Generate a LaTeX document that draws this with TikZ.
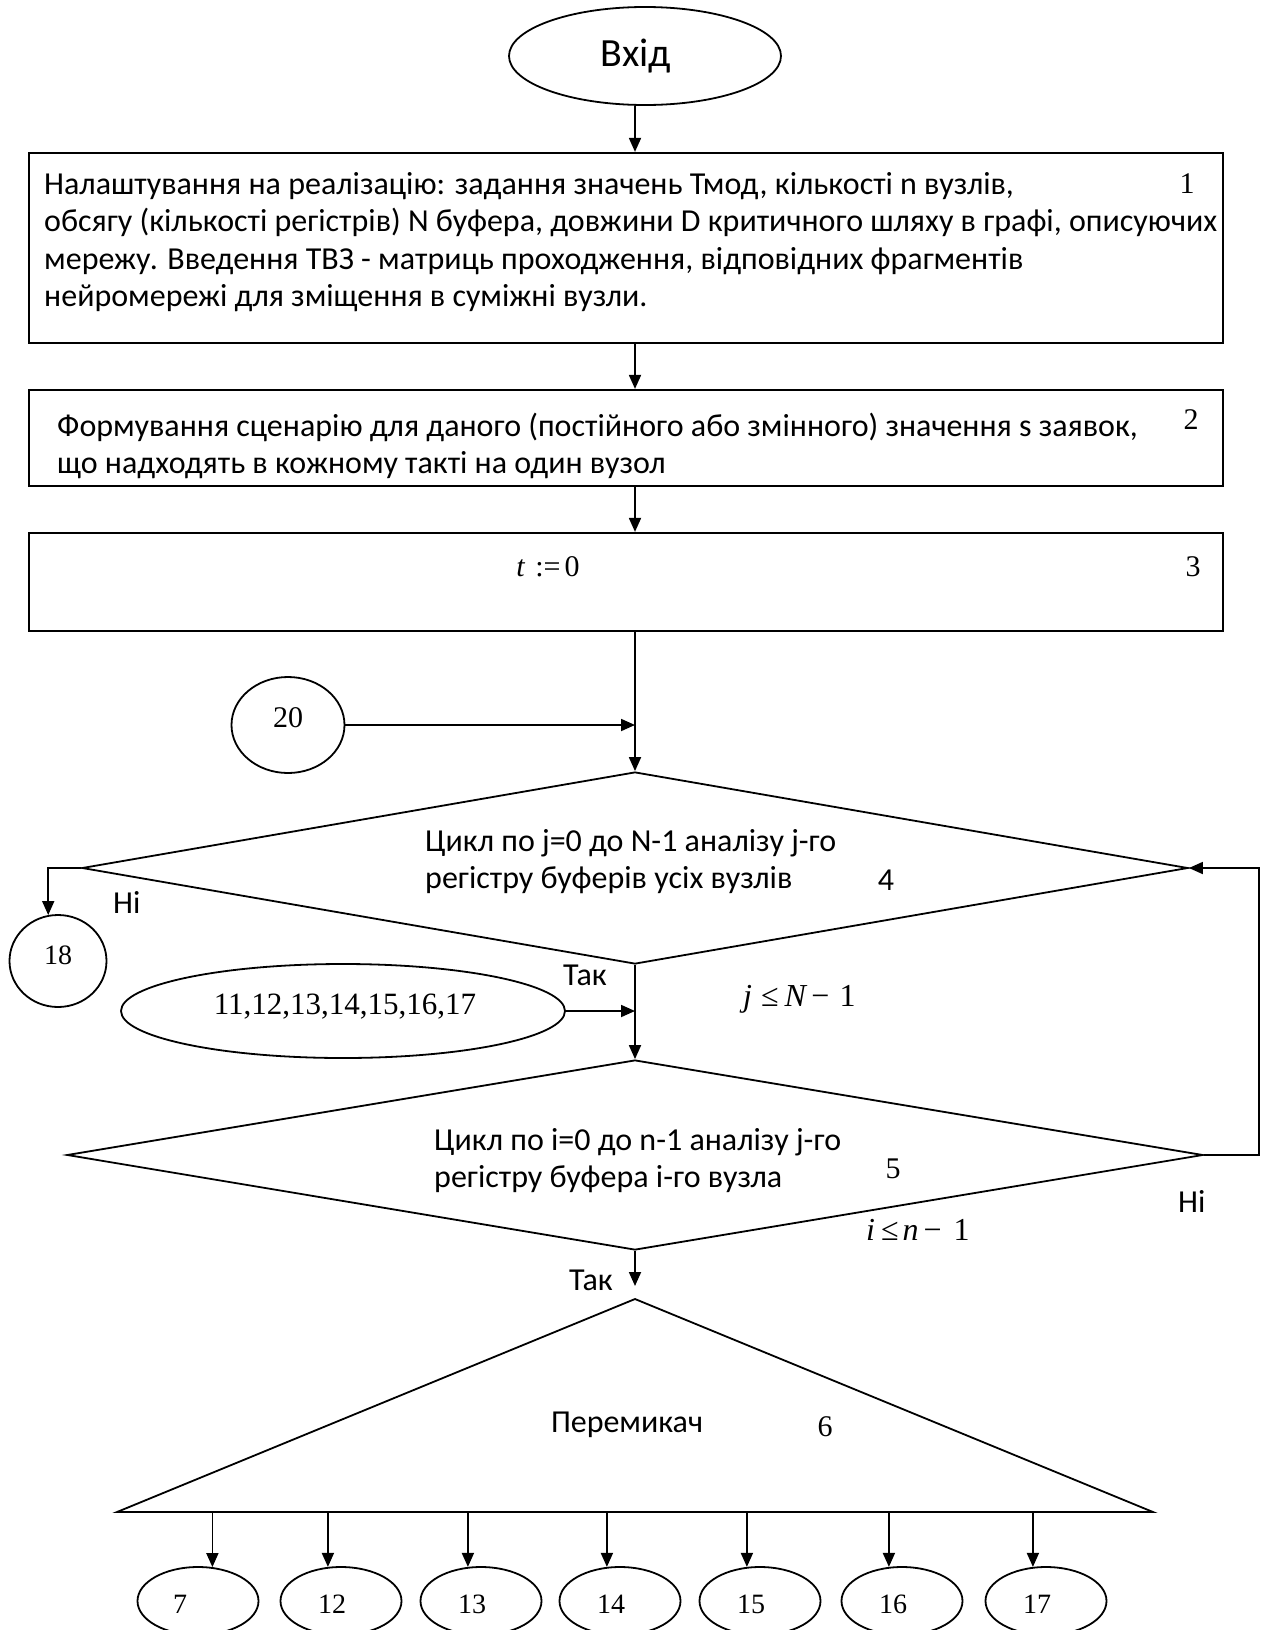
\documentclass[tikz,border=0pt]{standalone}
\usepackage{fontspec}
\setmainfont{Liberation Serif}
\newfontfamily\calib{Carlito}
\usetikzlibrary{shapes.geometric,arrows.meta}

\tikzset{
  conn/.style={line width=1.8pt},
  arr/.style={line width=1.8pt, -{Triangle[length=14pt,width=12pt]}},
  box/.style={draw, line width=2.2pt, rectangle, inner sep=0pt},
  decision/.style={draw, line width=1.8pt, diamond, inner sep=0pt},
  term/.style={draw, line width=1.8pt, ellipse, inner sep=0pt},
  txt/.style={inner sep=0pt, font=\calib\fontsize{32}{37.5}\selectfont},
  num/.style={inner sep=0pt, font=\fontsize{30}{32}\selectfont},
  mathlbl/.style={inner sep=0pt, font=\fontsize{32}{34}\selectfont},
  conn out/.style n args={2}{term, minimum width=121pt, minimum height=68pt,
    label={[inner sep=0pt, font=\fontsize{28}{30}\selectfont, yshift=-3pt, xshift=#2]center:#1}},
}

\begin{document}
\begin{tikzpicture}[x=1pt,y=-1pt]
\useasboundingbox (0,0) rectangle (1262,1630);

% start terminal
\node[term, minimum width=272pt, minimum height=98pt,
      label={[inner sep=0pt, font=\calib\fontsize{40}{44}\selectfont, xshift=-9pt]center:Вхід}] (start) at (645,56) {};

% block 1
\node[box, minimum width=1194pt, minimum height=190pt] (b1) at (626,248) {};
\node[txt, anchor=base west] (b1t) at (44,194) {\parbox[t]{1250pt}{%
Налаштування на реалізацію: задання значень Тмод, кількості n вузлів,\\
обсягу (кількості регістрів) N буфера, довжини D критичного шляху в графі, описуючих\\
мережу. Введення ТВЗ - матриць проходження, відповідних фрагментів\\
нейромережі для зміщення в суміжні вузли.}};
\node[num, anchor=base] (b1n) at (1187,193) {1};

% block 2
\node[box, minimum width=1194pt, minimum height=96pt] (b2) at (626,438) {};
\node[txt, anchor=base west] (b2t) at (57,436) {\parbox[t]{1250pt}{%
Формування сценарію для даного (постійного або змінного) значення s заявок,\\
що надходять в кожному такті на один вузол}};
\node[num, anchor=base] (b2n) at (1191,429) {2};

% block 3
\node[box, minimum width=1194pt, minimum height=98pt] (b3) at (626,582) {};
\node[num, anchor=base] (b3t) at (548,576) {\textit{t}\hspace{10pt}:=\hspace{4pt}0};
\node[num, anchor=base] (b3n) at (1193,576) {3};

% connector 20
\node[term, minimum width=113pt, minimum height=96pt,
      label={[inner sep=0pt, font=\fontsize{30}{32}\selectfont, yshift=7pt]center:20}] (c20) at (288,725) {};

% decision 4
\node[decision, minimum width=1106pt, minimum height=192pt] (d4) at (635,868) {};
\node[txt, anchor=base west] (d4t) at (425,851) {\parbox[t]{600pt}{%
Цикл по j=0 до N-1 аналізу j-го\\
регістру буферів усіх вузлів}};
\node[txt, anchor=base] (d4n) at (886,890) {4};

% connector 18
\node[term, minimum width=97pt, minimum height=92pt,
      label={[inner sep=0pt, font=\fontsize{28}{30}\selectfont, yshift=6pt]center:18}] (c18) at (58,961) {};

% connector 11..17
\node[term, minimum width=444pt, minimum height=94pt,
      label={[inner sep=0pt, font=\fontsize{31}{34}\selectfont, yshift=4pt, xshift=2pt]center:11,12,13,14,15,16,17}] (e11) at (343,1011) {};

\node[mathlbl, anchor=base west] (cj) at (743,1006)
  {\textit{j}\hspace{9pt}≤\hspace{6pt}\textit{N}\hspace{4pt}−\hspace{10pt}1};

% decision 5
\node[decision, minimum width=1136pt, minimum height=190pt] (d5) at (635,1155) {};
\node[txt, anchor=base west] (d5t) at (434,1150) {\parbox[t]{600pt}{%
Цикл по i=0 до n-1 аналізу j-го\\
регістру буфера i-го вузла}};
\node[num, anchor=base] (d5n) at (893,1178) {5};
\node[mathlbl, anchor=base west] (ci) at (866,1240)
  {\textit{i}\hspace{6pt}≤\hspace{4pt}\textit{n}\hspace{5pt}−\hspace{12pt}1};

% branch labels
\node[txt, anchor=base west] (no1) at (113,913) {Ні};
\node[txt, anchor=base west] (yes1) at (563,985) {Так};
\node[txt, anchor=base west] (no2) at (1178,1212) {Ні};
\node[txt, anchor=base west] (yes2) at (569,1290) {Так};

% switch (triangle)
\coordinate (tA) at (635,1299);
\coordinate (tL) at (117,1512);
\coordinate (tR) at (1153,1512);
\draw[conn, line join=miter] (tA) -- (tL) -- (tR) -- cycle;
\node[txt, anchor=base] (sw) at (627,1432) {Перемикач};
\node[num, anchor=base] (swn) at (825,1436) {6};

% outgoing connectors
\node[conn out={7}{-18pt}]  (o7)  at (198,1601) {};
\node[conn out={12}{-9pt}] (o12) at (341,1601) {};
\node[conn out={13}{-9pt}] (o13) at (481,1601) {};
\node[conn out={14}{-9pt}] (o14) at (620,1601) {};
\node[conn out={15}{-9pt}] (o15) at (760,1601) {};
\node[conn out={16}{-9pt}] (o16) at (902,1601) {};
\node[conn out={17}{-9pt}] (o17) at (1046,1601) {};

% main flow
\draw[arr] (start.south -| d4.north) -- (b1.north -| d4.north);
\draw[arr] (b1.south -| d4.north) -- (b2.north -| d4.north);
\draw[arr] (b2.south -| d4.north) -- (b3.north -| d4.north);
\draw[arr] (b3.south -| d4.north) -- (d4.north);
\draw[arr] (c20.east) -- (c20.east -| d4.north);
\draw[arr] (d4.south) -- (d5.north);
\draw[arr] (e11.east) -- (e11.east -| d4.south);
\draw[arr] (d4.west) -- (d4.west -| c18.102) -- (c18.102);
\coordinate (loopR) at (1259,0);
\draw[arr] (d5.east) -- (d5.east -| loopR) |- (d4.east);
\draw[arr, shorten >=13pt] (d5.south) -- (tA);

% switch outputs
\draw[arr] (o7.67 |- tL) -- (o7.67);
\foreach \o in {o12,o13,o14,o15,o16,o17}
  \draw[arr] (\o.111 |- tL) -- (\o.111);
\end{tikzpicture}
\end{document}
